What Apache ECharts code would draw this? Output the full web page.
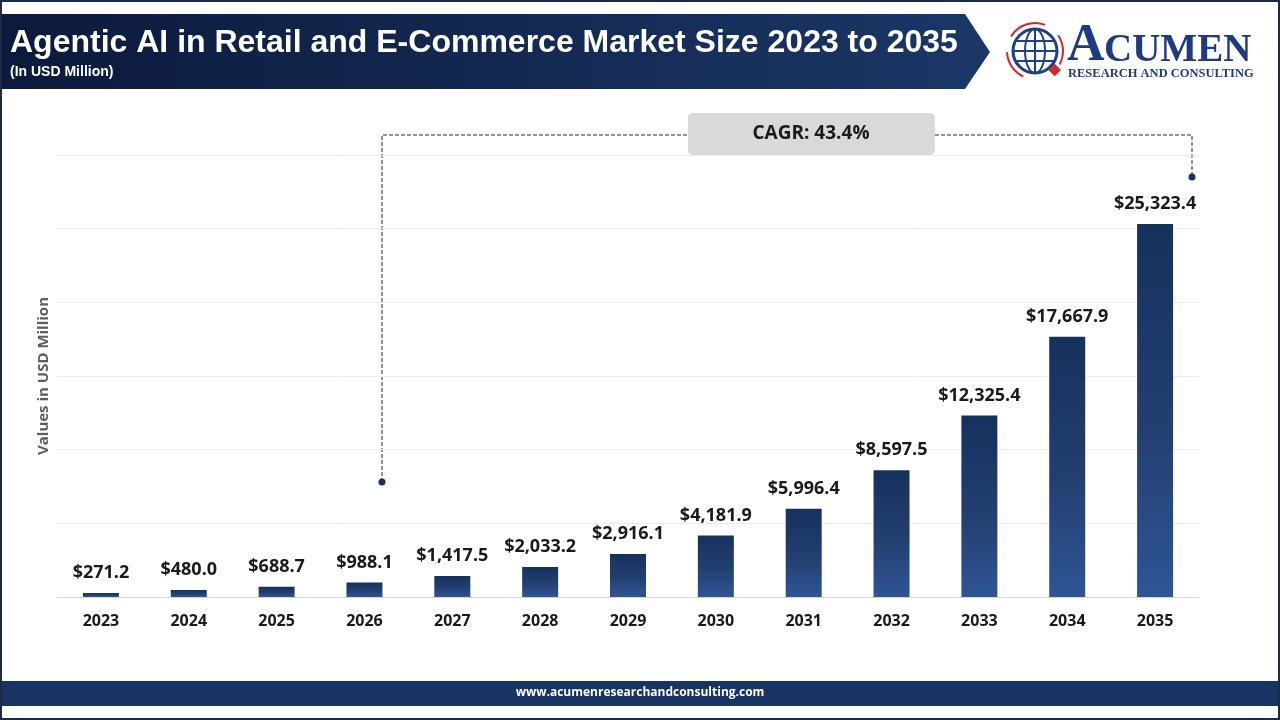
<!DOCTYPE html>
<html>
<head>
<meta charset="utf-8">
<script src="https://cdn.jsdelivr.net/npm/echarts@6/dist/echarts.min.js"></script>
<style>
  html, body { margin: 0; padding: 0; background: #fff; }
  #chart { width: 1280px; height: 720px; }
</style>
</head>
<body>
<div id="chart"></div>
<script>
const years = ['2023', '2024', '2025', '2026', '2027', '2028', '2029', '2030', '2031', '2032', '2033', '2034', '2035'];
const marketSize = [271.2, 480.0, 688.7, 988.1, 1417.5, 2033.2, 2916.1, 4181.9, 5996.4, 8597.5, 12325.4, 17667.9, 25323.4];
const cagrText = 'CAGR: 43.4%';

const chart = echarts.init(document.getElementById('chart'));

const fmt = v => '$' + v.toLocaleString('en-US', { minimumFractionDigits: 1, maximumFractionDigits: 1 });

chart.setOption({
    backgroundColor: '#fff',
    animation: false,
    grid: { left: 57, right: 81, top: 155, bottom: 123 },
    xAxis: {
        type: 'category',
        data: years,
        axisTick: { show: false },
        axisLine: { lineStyle: { color: '#d4d4d4', width: 1 } },
        axisLabel: { color: '#1a1a1a', fontFamily: 'Open Sans', fontWeight: 'bold', fontSize: 16, margin: 16 }
    },
    yAxis: {
        type: 'value',
        min: 0,
        max: 30000,
        interval: 5000,
        name: 'Values in USD Million',
        nameLocation: 'middle',
        nameGap: 6,
        nameTextStyle: { color: '#5e5e5e', fontFamily: 'Open Sans', fontWeight: 'bold', fontSize: 15, padding: [0, 0, 0, 0] },
        axisLabel: { show: false },
        axisLine: { show: false },
        axisTick: { show: false },
        splitLine: { lineStyle: { color: '#ececec', width: 1 } }
    },
    series: [{
        type: 'bar',
        data: marketSize,
        barWidth: 36,
        itemStyle: {
            color: new echarts.graphic.LinearGradient(0, 0, 0, 1, [
                { offset: 0, color: '#17315d' },
                { offset: 0.55, color: '#223f70' },
                { offset: 1, color: '#2f5596' }
            ])
        },
        label: {
            show: true,
            position: 'top',
            distance: 11,
            formatter: p => fmt(p.value),
            color: '#1a1a1a',
            fontFamily: 'Open Sans',
            fontWeight: 'bold',
            fontSize: 18
        }
    }],
    graphic: [
        // outer frame
        { type: 'rect', shape: { x: 1, y: 1, width: 1278, height: 718 }, style: { fill: 'none', stroke: '#1c2b45', lineWidth: 2 }, z: 100 },
        // title banner
        {
            type: 'polygon',
            shape: { points: [[0, 14], [965, 14], [990, 52], [965, 89], [0, 89]] },
            style: {
                fill: new echarts.graphic.LinearGradient(0, 0, 1, 0, [
                    { offset: 0, color: '#0b1a3c' },
                    { offset: 1, color: '#1b3766' }
                ])
            }
        },
        {
            type: 'text', x: 10, y: 43,
            style: { text: 'Agentic AI in Retail and E-Commerce Market Size 2023 to 2035', fill: '#fff', font: 'bold 32px "Liberation Sans", Arial, sans-serif', verticalAlign: 'middle' }
        },
        {
            type: 'text', x: 10, y: 72,
            style: { text: '(In USD Million)', fill: '#fff', font: 'bold 14px "Liberation Sans", Arial, sans-serif', verticalAlign: 'middle' }
        },
        // logo
        { type: 'circle', shape: { cx: 1035, cy: 51, r: 22 }, style: { fill: 'none', stroke: '#1f3f86', lineWidth: 3 } },
        { type: 'ellipse', shape: { cx: 1035, cy: 51, rx: 10, ry: 22 }, style: { fill: 'none', stroke: '#1f3f86', lineWidth: 2 } },
        { type: 'line', shape: { x1: 1013, y1: 51, x2: 1057, y2: 51 }, style: { stroke: '#1f3f86', lineWidth: 2 } },
        { type: 'line', shape: { x1: 1016, y1: 41, x2: 1054, y2: 41 }, style: { stroke: '#1f3f86', lineWidth: 2 } },
        { type: 'line', shape: { x1: 1016, y1: 61, x2: 1054, y2: 61 }, style: { stroke: '#1f3f86', lineWidth: 2 } },
        { type: 'line', shape: { x1: 1035, y1: 29, x2: 1035, y2: 73 }, style: { stroke: '#1f3f86', lineWidth: 2 } },
        { type: 'arc', shape: { cx: 1035, cy: 51, r: 28, startAngle: -2.6, endAngle: -1.2 }, style: { fill: 'none', stroke: '#d02a2a', lineWidth: 2 } },
        { type: 'arc', shape: { cx: 1035, cy: 51, r: 28, startAngle: -0.6, endAngle: 0.5 }, style: { fill: 'none', stroke: '#d02a2a', lineWidth: 2 } },
        { type: 'arc', shape: { cx: 1035, cy: 51, r: 28, startAngle: 2.0, endAngle: 3.1 }, style: { fill: 'none', stroke: '#d02a2a', lineWidth: 2 } },
        { type: 'rect', shape: { x: 1050, y: 66, width: 9, height: 9 }, rotation: Math.PI / 4, originX: 1054, originY: 70, style: { fill: '#d02a2a' } },
        {
            type: 'text', left: 1067, top: 21,
            style: { text: 'A', fill: '#1f3a7e', font: 'bold 52px "Liberation Serif", "DejaVu Serif", serif' }
        },
        {
            type: 'text', left: 1104, top: 31,
            style: { text: 'CUMEN', fill: '#1f3a7e', font: 'bold 39px "Liberation Serif", "DejaVu Serif", serif' }
        },
        {
            type: 'text', left: 1068, top: 67,
            style: { text: 'RESEARCH AND CONSULTING', fill: '#1f3a7e', font: 'bold 12.5px "Liberation Serif", "DejaVu Serif", serif' }
        },
        // CAGR bracket
        {
            type: 'polyline',
            shape: { points: [[382, 482], [382, 135], [1192, 135], [1192, 177]] },
            style: { fill: 'none', stroke: '#2a2a2a', lineWidth: 1, lineDash: [4, 2] }
        },
        { type: 'circle', shape: { cx: 382, cy: 482, r: 3.5 }, style: { fill: '#17315d' } },
        { type: 'circle', shape: { cx: 1192, cy: 177, r: 3.5 }, style: { fill: '#17315d' } },
        {
            type: 'rect', shape: { x: 688, y: 113, width: 247, height: 42, r: 5 },
            style: { fill: '#d9d9d9' }, z: 10
        },
        {
            type: 'text', x: 811, y: 134, z: 11,
            style: { text: cagrText, fill: '#1a1a1a', font: 'bold 19px "Open Sans", sans-serif', align: 'center', verticalAlign: 'middle' }
        },
        // footer
        { type: 'rect', shape: { x: 0, y: 681, width: 1280, height: 25 }, style: { fill: '#183462' } },
        {
            type: 'text', x: 640, y: 693,
            style: { text: 'www.acumenresearchandconsulting.com', fill: '#fff', font: 'bold 12px "Open Sans", sans-serif', align: 'center', verticalAlign: 'middle' }
        }
    ]
});
</script>
</body>
</html>
